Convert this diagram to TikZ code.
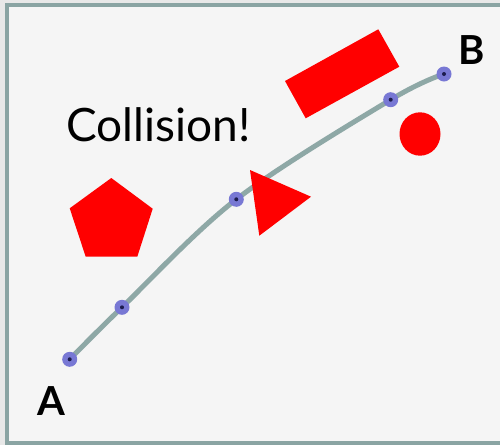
\documentclass[tikz,border=0pt]{standalone}
\usepackage{fontspec}
\setmainfont{Lato}
\definecolor{frame}{HTML}{8AA4A3}
\definecolor{pathc}{HTML}{8EA8A6}
\definecolor{dotc}{HTML}{7878D4}
\definecolor{dotin}{HTML}{1C1C4E}
\definecolor{bgin}{HTML}{F5F5F5}
\definecolor{bgout}{HTML}{E8E8E8}
\definecolor{obst}{HTML}{FF0000}
\tikzset{
  waypt/.style={circle, fill=dotc, minimum size=15pt, inner sep=0pt},
  wayin/.style={circle, fill=dotin, minimum size=4pt, inner sep=0pt},
  obstacle/.style={fill=obst, draw=none},
  endlabel/.style={font=\bfseries\fontsize{40}{40}\selectfont, inner sep=0pt, anchor=base},
}
\begin{document}
\begin{tikzpicture}[x=1pt,y=-1pt]
\useasboundingbox (0,0) rectangle (500,445);
\clip (0,0) rectangle (500,445);
\fill[bgout] (0,0) rectangle (500,445);
\fill[bgin] (7,5) rectangle (510,443);
\draw[frame, line width=4pt] (7,5) rectangle (510,443);
% path
\coordinate (pA) at (69.7,359.3);
\coordinate (p2) at (122,307.3);
\coordinate (p3) at (236.3,199.3);
\coordinate (p4) at (390.7,99.7);
\coordinate (pB) at (444,74);
\draw[pathc, line width=5pt] plot[smooth, tension=0.55] coordinates {(pA) (p2) (p3) (p4) (pB)};
% obstacles
\fill[obstacle] (111.3,178) -- (152.7,208.7) -- (137.3,256.7) -- (85.7,256.7) -- (69.7,208.3) -- cycle;
\fill[obstacle] (250,170) -- (311,196.7) -- (259.3,235.7) -- cycle;
\fill[obstacle] (285,81) -- (378.3,29.3) -- (399.3,66.7) -- (305.7,118.3) -- cycle;
\fill[obstacle] (420,134) ellipse[x radius=20.5, y radius=21.7];
\foreach \p in {pA,p2,p3,p4,pB} {
  \node[waypt] (w\p) at (\p) {};
  \node[wayin] (i\p) at (\p) {};
}
\node[font=\fontsize{46}{46}\selectfont, inner sep=0pt, anchor=base west] (coll) at (66,141.7) {Collision!};
\node[endlabel] (lA) at (51.7,415) {A};
\node[endlabel] (lB) at (472,64.3) {B};
\end{tikzpicture}
\end{document}
